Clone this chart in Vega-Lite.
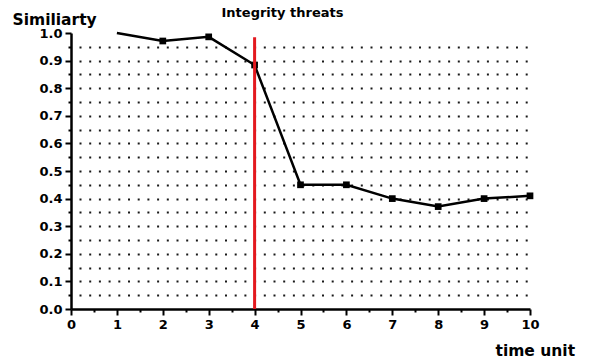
{
  "$schema": "https://vega.github.io/schema/vega-lite/v6.json",
  "autosize": "none",
  "width": 459,
  "height": 276,
  "padding": {"left": 71, "top": 33, "right": 62, "bottom": 51},
  "background": "white",
  "title": {"text": "Integrity threats", "font": "DejaVu Sans", "fontSize": 13, "fontWeight": "bold", "color": "black", "anchor": "middle", "dx": -18, "offset": 0, "dy": 8},
  "config": {"view": {"stroke": null}},
  "datasets": {
    "series": [
      {"t": 1, "s": 1.0},
      {"t": 2, "s": 0.971},
      {"t": 3, "s": 0.986},
      {"t": 4, "s": 0.884},
      {"t": 5, "s": 0.45},
      {"t": 6, "s": 0.45},
      {"t": 7, "s": 0.40},
      {"t": 8, "s": 0.371},
      {"t": 9, "s": 0.40},
      {"t": 10, "s": 0.41}
    ],
    "threat": [{"t": 4, "s": 0, "s2": 0.985}]
  },
  "encoding": {
    "x": {"field": "t", "type": "quantitative", "scale": {"domain": [0, 10], "nice": false},
      "axis": {
        "values": [0,0.5,1,1.5,2,2.5,3,3.5,4,4.5,5,5.5,6,6.5,7,7.5,8,8.5,9,9.5,10],
        "labelExpr": "round(datum.value*2) % 2 == 0 ? format(datum.value, 'd') : ''",
        "grid": false,
        "domainColor": "black", "domainWidth": 2.5,
        "tickColor": "black", "tickWidth": 2,
        "tickSize": {"condition": {"test": "round(datum.value*2) % 2 == 1", "value": 3}, "value": 6},
        "labelFont": "DejaVu Sans", "labelFontSize": 13, "labelFontWeight": "bold", "labelColor": "black", "labelPadding": 3,
        "labelFlush": false, "labelOverlap": false,
        "title": "time unit", "titleFont": "DejaVu Sans", "titleFontSize": 15.5, "titleFontWeight": "bold", "titleColor": "black",
        "titleAlign": "left", "titleBaseline": "alphabetic", "titleAnchor": "start", "titleX": 424, "titleY": 46
      }},
    "y": {"field": "s", "type": "quantitative", "scale": {"domain": [0, 1], "nice": false},
      "axis": {
        "values": [0,0.05,0.1,0.15,0.2,0.25,0.3,0.35,0.4,0.45,0.5,0.55,0.6,0.65,0.7,0.75,0.8,0.85,0.9,0.95,1.0],
        "labelExpr": "round(datum.value*20) % 2 == 0 ? format(datum.value, '.1f') : ''",
        "grid": true, "gridColor": "black", "gridWidth": 2, "gridDash": [2, 7.7], "gridDashOffset": -8,
        "gridOpacity": {"condition": {"test": "datum.value < 0.01 || datum.value > 0.99", "value": 0}, "value": 0.9},
        "domainColor": "black", "domainWidth": 2.5,
        "tickColor": "black", "tickWidth": 2,
        "tickSize": {"condition": {"test": "round(datum.value*20) % 2 == 1", "value": 3}, "value": 6},
        "labelFont": "DejaVu Sans", "labelFontSize": 13, "labelFontWeight": "bold", "labelColor": "black", "labelPadding": 3,
        "labelFlush": false, "labelOverlap": false,
        "title": "Similiarty", "titleFont": "DejaVu Sans", "titleFontSize": 15.5, "titleFontWeight": "bold", "titleColor": "black",
        "titleAngle": 0, "titleAlign": "left", "titleBaseline": "alphabetic", "titleAnchor": "start", "titleX": -59, "titleY": -9
      }}
  },
  "layer": [
    {
      "data": {"name": "series"},
      "mark": {"type": "line", "color": "black", "strokeWidth": 2.5, "clip": false}
    },
    {
      "data": {"name": "series"},
      "transform": [{"filter": "datum.t >= 2"}],
      "mark": {"type": "square", "color": "black", "filled": true, "opacity": 1, "size": 45}
    },
    {
      "data": {"name": "threat"},
      "mark": {"type": "rule", "color": "#e3191f", "strokeWidth": 3},
      "encoding": {
        "y2": {"field": "s2"}
      }
    }
  ]
}
